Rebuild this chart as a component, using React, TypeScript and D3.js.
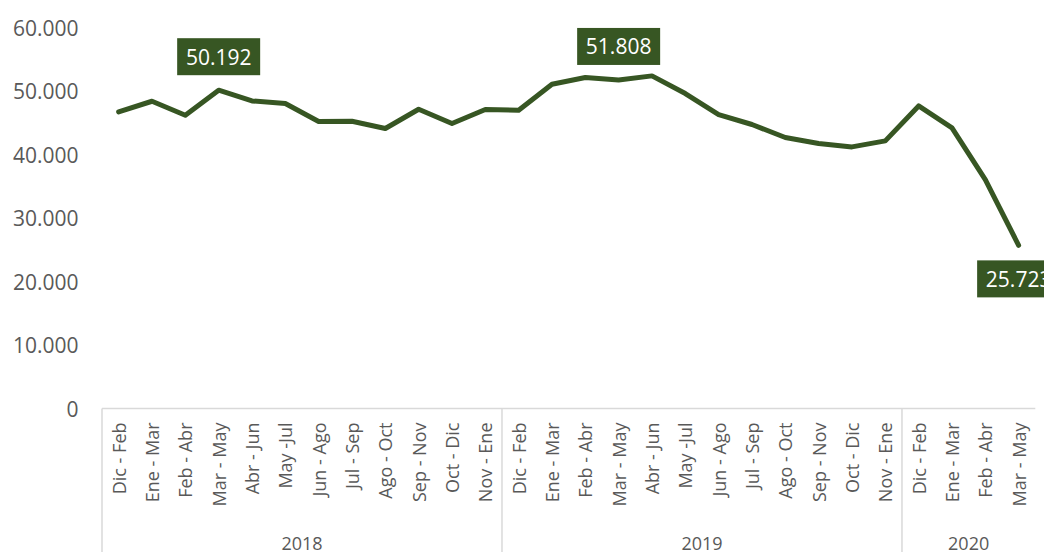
import React from "react";
import * as d3 from "d3";

const categories = [
  "Dic - Feb", "Ene - Mar", "Feb - Abr", "Mar - May", "Abr - Jun", "May -Jul",
  "Jun - Ago", "Jul - Sep", "Ago - Oct", "Sep - Nov", "Oct - Dic", "Nov - Ene",
  "Dic - Feb", "Ene - Mar", "Feb - Abr", "Mar - May", "Abr - Jun", "May -Jul",
  "Jun - Ago", "Jul - Sep", "Ago - Oct", "Sep - Nov", "Oct - Dic", "Nov - Ene",
  "Dic - Feb", "Ene - Mar", "Feb - Abr", "Mar - May",
];

const years = ["2018", "2019", "2020"];
const yearCounts = [12, 12, 4];

const values = [
  46770, 48450, 46250, 50192, 48500, 48090, 45250, 45300, 44150, 47190, 44930, 47140,
  47030, 51130, 52190, 51808, 52450, 49660, 46350, 44780, 42730, 41780, 41250, 42200,
  47710, 44250, 36100, 25723,
];

const yTicks = [0, 10000, 20000, 30000, 40000, 50000, 60000];

// labelled points: index and placement
const labelIdx = [3, 15, 27];
const labelPos = ["above", "above", "below"];

const W = 1044;
const H = 552;
const LEFT = 102;
const RIGHT = 1035.3;
const Y0 = 408.5;
const YTOP = 28;
const FONT = "'Open Sans', 'Noto Sans', sans-serif";
const GREEN = "#375623";
const GRAY = "#595959";
const AXIS = "#d9d9d9";

const fmt = (v: number) => {
  if (v === 0) return "0";
  const s = Math.round(v).toString();
  return s.replace(/\B(?=(\d{3})+(?!\d))/g, ".");
};

export default function App() {
  const x = d3
    .scaleBand<number>()
    .domain(d3.range(categories.length))
    .range([LEFT, RIGHT])
    .padding(0);
  const y = d3.scaleLinear().domain([0, 60000]).range([Y0, YTOP]);
  const cx = (i: number) => (x(i) as number) + x.bandwidth() / 2;

  const line = d3
    .line<number>()
    .x((_, i) => cx(i))
    .y((d) => y(d));

  // group boundaries
  const bounds: number[] = [0];
  yearCounts.forEach((c) => bounds.push(bounds[bounds.length - 1] + c));

  return (
    <svg
      width={W}
      height={H}
      style={{ position: "fixed", left: 0, top: 0, background: "#fff" }}
      fontFamily={FONT}
    >
      {/* y tick labels */}
      {yTicks.map((t) => (
        <text
          key={t}
          x={78.5}
          y={y(t)}
          textAnchor="end"
          dominantBaseline="central"
          fontSize={21}
          fill={GRAY}
        >
          {fmt(t)}
        </text>
      ))}

      {/* category axis */}
      <line x1={LEFT} x2={RIGHT} y1={Y0} y2={Y0} stroke={AXIS} strokeWidth={1.5} />
      {bounds.slice(0, bounds.length - 1).map((b, k) => {
        const xx = k === 0 ? LEFT : (x(b) as number);
        return (
          <line key={k} x1={xx} x2={xx} y1={Y0} y2={H} stroke={AXIS} strokeWidth={1.5} />
        );
      })}
      {categories.map((c, i) => (
        <text
          key={i}
          transform={`translate(${cx(i)},${Y0 + 14}) rotate(-90)`}
          textAnchor="end"
          dominantBaseline="central"
          fontSize={18}
          fill={GRAY}
        >
          {c}
        </text>
      ))}
      {years.map((yr, k) => {
        const a = x(bounds[k]) as number;
        const b = bounds[k + 1] >= categories.length ? RIGHT : (x(bounds[k + 1]) as number);
        return (
          <text
            key={yr}
            x={(a + b) / 2}
            y={543}
            textAnchor="middle"
            dominantBaseline="central"
            fontSize={18}
            fill={GRAY}
          >
            {yr}
          </text>
        );
      })}

      {/* series line */}
      <path
        d={line(values) || ""}
        fill="none"
        stroke={GREEN}
        strokeWidth={5}
        strokeLinejoin="round"
        strokeLinecap="round"
      />

      {/* data labels */}
      {labelIdx.map((idx, k) => {
        const px = cx(idx);
        const py = y(values[idx]);
        const bw = 83;
        const bh = 37;
        const top = labelPos[k] === "above" ? py - 15 - bh : py + 15;
        return (
          <g key={idx}>
            <rect x={px - bw / 2} y={top} width={bw} height={bh} fill={GREEN} />
            <text
              x={px}
              y={top + bh / 2}
              textAnchor="middle"
              dominantBaseline="central"
              fontSize={21}
              fill="#ffffff"
            >
              {fmt(values[idx])}
            </text>
          </g>
        );
      })}
    </svg>
  );
}
